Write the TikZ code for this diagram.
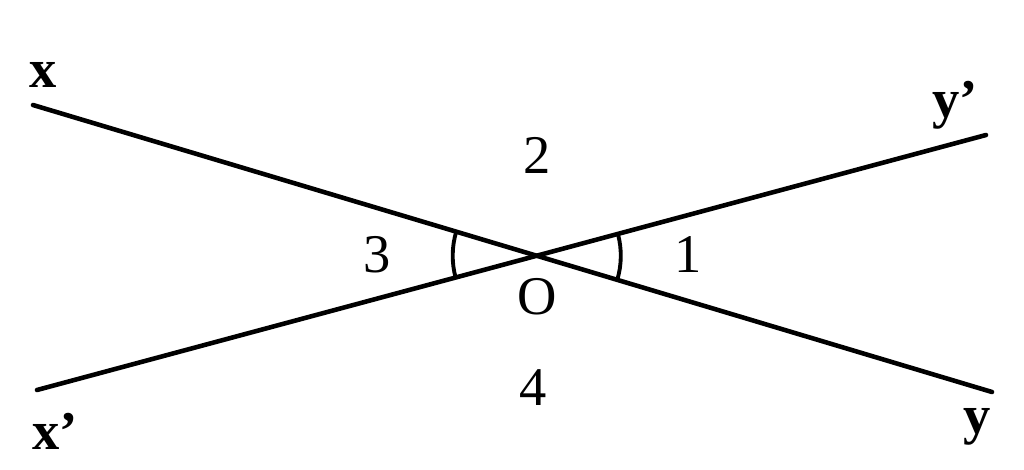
\documentclass[tikz,border=0pt]{standalone}
\usepackage{fontspec}
\setmainfont{Liberation Serif}
\usetikzlibrary{angles, calc}

\begin{document}
\begin{tikzpicture}[
    x=0.01cm, y=0.01cm,
    % Styles
    line/.style={ % the two straight lines
        line width=1.3pt,
        line cap=round
    },
    lbl/.style={ % point and angle labels
        inner sep=0pt,
        font=\fontsize{15.5}{18}\selectfont
    },
    endlbl/.style={ % labels at the line ends
        lbl,
        font=\fontsize{15.5}{18}\selectfont\bfseries
    },
    anglemark/.style={ % angle arcs
        draw,
        line width=1.1pt,
        angle radius=0.84cm
    }
]
    \useasboundingbox (0,0) rectangle (1024,469);

    % Line ends
    \coordinate (X) at (33,364);
    \coordinate (Y) at (992,77);
    \coordinate (Xp) at (37,79);
    \coordinate (Yp) at (986,334);
    \coordinate (O) at (intersection of X--Y and Xp--Yp);

    % Lines
    \draw[line] (X) -- (Y);
    \draw[line] (Xp) -- (Yp);

    % Angle marks
    \pic[anglemark] {angle = X--O--Xp};
    \pic[anglemark] {angle = Y--O--Yp};

    % End labels
    \node[endlbl] (lx) at (43,394) {x};
    \node[endlbl] (lxp) at (55,38) {x'};
    \node[endlbl] (lyp) at (955,364) {y'};
    \node[endlbl] (ly) at (977,42) {y};

    % Angle numbers and O
    \node[lbl] (n2) at (537,314) {2};
    \node[lbl] (n3) at (377,214) {3};
    \node[lbl] (n1) at (688,214) {1};
    \node[lbl] (n4) at (533,81) {4};
    \node[lbl] (lO) at (537,172) {O};

\end{tikzpicture}
\end{document}
